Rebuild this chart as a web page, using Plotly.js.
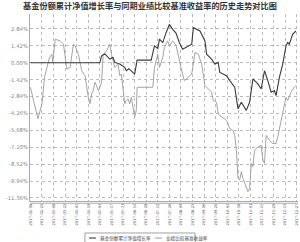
<!DOCTYPE html>
<html><head><meta charset="utf-8">
<script src="https://cdn.plot.ly/plotly-3.0.1.min.js"></script>
<style>html,body{margin:0;padding:0;background:#fff}#c{width:300px;height:242px}</style>
</head><body><div id="c"></div>
<script>
const titleText = "基金份额累计净值增长率与同期业绩比较基准收益率的历史走势对比图";
const seriesNames = ["基金份额累计净值增长率", "业绩比较基准收益率"];

const fundDates = ["2017-02-08","2017-05-03","2017-05-05","2017-05-09","2017-05-15","2017-05-19","2017-05-21","2017-05-27","2017-06-02","2017-06-04","2017-06-07","2017-06-10","2017-06-14","2017-06-17","2017-07-04","2017-07-08","2017-07-12","2017-07-14","2017-07-18","2017-07-22","2017-07-26","2017-07-30","2017-08-03","2017-08-07","2017-08-11","2017-08-22","2017-08-24","2017-09-01","2017-09-07","2017-09-09","2017-09-15","2017-09-19","2017-09-23","2017-09-25","2017-10-03","2017-10-07","2017-10-13","2017-10-17","2017-10-21","2017-10-27","2017-10-31","2017-11-04","2017-11-10","2017-11-14","2017-11-18","2017-11-22","2017-11-26","2017-11-30","2017-12-02","2017-12-06","2017-12-10","2017-12-14","2017-12-16","2017-12-18","2017-12-22","2017-12-26"];
const fundValues = [0,0,0.58,0.75,0.31,0.45,0.03,-0.10,-0.39,-0.67,-0.50,-0.67,-0.95,0.22,0.22,1.42,1.20,1.98,1.70,2.53,3.23,2.81,2.50,1.70,1.14,1.56,2.95,2.67,1.84,0.72,0.31,-0.11,0.03,-0.81,-1.09,-1.50,-2.06,-3.87,-3.32,-4.00,-3.32,-1.36,-1.78,-2.20,-0.67,-1.50,-2.48,-2.34,-2.76,-1.23,-0.11,1.42,1.70,1.56,2.39,2.67];

const benchDates = ["2017-02-08","2017-02-17","2017-02-22","2017-02-25","2017-02-28","2017-03-03","2017-03-06","2017-03-07","2017-03-10","2017-03-14","2017-03-16","2017-03-20","2017-03-24","2017-03-28","2017-04-01","2017-04-03","2017-04-07","2017-04-11","2017-04-15","2017-04-19","2017-04-21","2017-04-23","2017-04-25","2017-04-27","2017-04-29","2017-05-01","2017-05-03","2017-05-05","2017-05-07","2017-05-11","2017-05-15","2017-05-17","2017-05-21","2017-05-25","2017-05-27","2017-05-29","2017-05-31","2017-06-02","2017-06-04","2017-06-06","2017-06-08","2017-06-10","2017-06-12","2017-06-14","2017-06-16","2017-06-17","2017-07-06","2017-07-08","2017-07-10","2017-07-12","2017-07-14","2017-07-18","2017-07-20","2017-07-24","2017-07-26","2017-07-30","2017-08-03","2017-08-07","2017-08-09","2017-08-13","2017-08-17","2017-08-22","2017-08-26","2017-08-30","2017-09-03","2017-09-07","2017-09-11","2017-09-15","2017-09-17","2017-09-21","2017-09-23","2017-09-27","2017-10-01","2017-10-03","2017-10-05","2017-10-07","2017-10-11","2017-10-13","2017-10-15","2017-10-17","2017-10-19","2017-10-21","2017-10-23","2017-10-29","2017-10-31","2017-11-02","2017-11-04","2017-11-06","2017-11-10","2017-11-14","2017-11-16","2017-11-18","2017-11-20","2017-11-24","2017-11-28","2017-12-02","2017-12-04","2017-12-08","2017-12-10","2017-12-14","2017-12-16","2017-12-20","2017-12-24","2017-12-26"];
const benchValues = [-2.06,-4.70,-3.45,-1.23,-0.39,0.44,0.72,0.03,1.98,1.84,1.84,1.56,-0.53,-0.39,1.56,1.42,0.72,-0.67,-1.09,-2.90,-3.45,-2.62,-2.34,-1.64,-1.92,-2.34,-2.06,-1.64,0.72,1.00,1.56,0.72,-0.39,-0.11,-1.09,-0.95,-2.06,-3.45,-3.17,-3.03,-3.45,-2.90,-3.73,-4.57,-4.00,-2.06,-2.06,-0.39,0.17,0.72,-0.39,0.44,1.28,1.84,1.42,1.84,1.50,0.10,-0.39,-1.50,-1.23,-0.95,0.86,0.72,-0.11,-1.92,-2.20,-2.48,-3.17,-3.32,-4.29,-4.57,-4.71,-4.85,-5.12,-5.54,-5.68,-6.10,-7.35,-9.72,-9.86,-9.16,-9.72,-10.83,-10.55,-8.46,-8.74,-7.35,-7.07,-6.93,-8.19,-8.46,-6.10,-6.52,-6.79,-6.79,-6.24,-4.85,-4.29,-2.90,-3.17,-2.48,-2.06,-1.92];

const yTicks = [2.84,1.42,0,-1.42,-2.84,-4.26,-5.68,-7.10,-8.52,-9.94,-11.36];
const xTicks = ["2017-02-08","2017-02-22","2017-03-08","2017-03-22","2017-04-05","2017-04-19","2017-05-03","2017-05-17","2017-05-31","2017-06-14","2017-06-28","2017-07-12","2017-07-26","2017-08-09","2017-08-23","2017-09-06","2017-09-20","2017-10-04","2017-10-18","2017-11-01","2017-11-15","2017-11-29","2017-12-13","2017-12-27"];

const traces = [
  {x: benchDates, y: benchValues, name: seriesNames[1], mode: "lines", line: {color: "#9a9a9a", width: 0.9}},
  {x: fundDates, y: fundValues, name: seriesNames[0], mode: "lines", line: {color: "#3a3a3a", width: 1.1}}
];

const layout = {
  width: 300, height: 242,
  margin: {l: 30, r: 2, t: 14, b: 41},
  paper_bgcolor: "#fff", plot_bgcolor: "#fff",
  showlegend: false,
  title: {text: titleText, x: 0.5, xref: "container", xanchor: "center", y: 0.985, yanchor: "top",
          font: {family: "Noto Sans CJK SC", size: 8.2, color: "#333", weight: "bold"}},
  xaxis: {
    type: "date",
    range: ["2017-02-07 12:00", "2017-12-28 12:00"],
    tickvals: xTicks, tickformat: "%Y-%m-%d", tickangle: -90,
    tickfont: {family: "DejaVu Sans", size: 3.8, color: "#666"},
    showgrid: true, gridcolor: "#aaa", griddash: "dot", gridwidth: 0.8,
    showline: true, linecolor: "#aaa", linewidth: 1,
    ticks: "", zeroline: false, fixedrange: true
  },
  yaxis: {
    range: [-11.62, 4.1],
    tickvals: yTicks, ticktext: yTicks.map(v => v.toFixed(2) + "%"),
    tickfont: {family: "DejaVu Sans", size: 5.3, color: "#888"},
    showgrid: true, gridcolor: "#aaa", griddash: "dot", gridwidth: 0.8,
    showline: true, linecolor: "#aaa", linewidth: 1,
    ticks: "", zeroline: false, fixedrange: true
  },
  shapes: [
    {type: "line", xref: "paper", yref: "paper", x0: 0, x1: 1, y0: -0.012, y1: -0.012, line: {color: "#aaa", width: 1}},
    {type: "rect", xref: "paper", yref: "paper", x0: 0.205, x1: 0.616, y0: -0.23, y1: -0.171, line: {color: "#888", width: 0.8}},
    {type: "line", xref: "paper", yref: "paper", x0: 0.22, x1: 0.246, y0: -0.198, y1: -0.198, line: {color: "#3a3a3a", width: 1.1}},
    {type: "line", xref: "paper", yref: "paper", x0: 0.466, x1: 0.493, y0: -0.198, y1: -0.198, line: {color: "#9a9a9a", width: 1}}
  ],
  annotations: [
    {xref: "paper", yref: "paper", x: 0.254, y: -0.198, xanchor: "left", yanchor: "middle", showarrow: false,
     text: seriesNames[0], font: {family: "Noto Sans CJK SC", size: 4.6, color: "#444"}},
    {xref: "paper", yref: "paper", x: 0.5, y: -0.198, xanchor: "left", yanchor: "middle", showarrow: false,
     text: seriesNames[1], font: {family: "Noto Sans CJK SC", size: 4.6, color: "#444"}}
  ]
};
Plotly.newPlot("c", traces, layout, {staticPlot: true, displayModeBar: false});
</script></body></html>
